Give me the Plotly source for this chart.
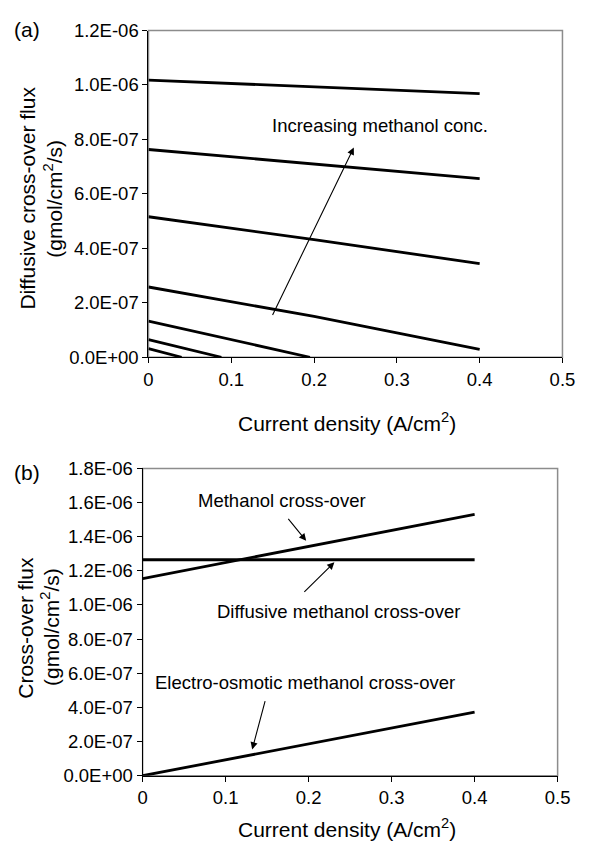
import plotly.graph_objects as go

# ---------------- Data ----------------
# Panel (a): diffusive cross-over flux for increasing methanol concentrations
a_x = [
    [0.0, 0.2, 0.4],
    [0.0, 0.2, 0.4],
    [0.0, 0.2, 0.4],
    [0.0, 0.2, 0.4],
    [0.0, 0.1, 0.195],
    [0.0, 0.088],
    [0.0, 0.04],
]
a_y = [
    [1.018e-06, 0.993e-06, 0.968e-06],
    [0.763e-06, 0.710e-06, 0.656e-06],
    [0.516e-06, 0.432e-06, 0.344e-06],
    [0.258e-06, 0.150e-06, 0.029e-06],
    [0.133e-06, 0.064e-06, 0.0],
    [0.065e-06, 0.0],
    [0.032e-06, 0.0],
]

# Panel (b): cross-over flux components
b_x = [0.0, 0.1, 0.2, 0.3, 0.4]
b_total = [1.155e-06, 1.250e-06, 1.343e-06, 1.437e-06, 1.531e-06]
b_diffusive = [1.265e-06, 1.265e-06, 1.265e-06, 1.265e-06, 1.265e-06]
b_electro = [0.0, 0.093e-06, 0.186e-06, 0.279e-06, 0.372e-06]

x_ticks = [0, 0.1, 0.2, 0.3, 0.4, 0.5]
x_tick_labels = ["0", "0.1", "0.2", "0.3", "0.4", "0.5"]
ya_ticks = [0, 2e-07, 4e-07, 6e-07, 8e-07, 1.0e-06, 1.2e-06]
ya_tick_labels = ["0.0E+00", "2.0E-07", "4.0E-07", "6.0E-07", "8.0E-07", "1.0E-06", "1.2E-06"]
yb_ticks = [0, 2e-07, 4e-07, 6e-07, 8e-07, 1.0e-06, 1.2e-06, 1.4e-06, 1.6e-06, 1.8e-06]
yb_tick_labels = ["0.0E+00", "2.0E-07", "4.0E-07", "6.0E-07", "8.0E-07",
                  "1.0E-06", "1.2E-06", "1.4E-06", "1.6E-06", "1.8E-06"]

# ---------------- Figure ----------------
W, H = 590, 852
FONT = "Liberation Sans, Arial, sans-serif"
TICK_SIZE = 18.5
LINE_W = 2.8

fig = go.Figure()

for xs, ys in zip(a_x, a_y):
    fig.add_trace(go.Scatter(x=xs, y=ys, mode="lines",
                             line=dict(color="black", width=LINE_W),
                             xaxis="x", yaxis="y", showlegend=False))

for ys in (b_total, b_diffusive, b_electro):
    fig.add_trace(go.Scatter(x=b_x, y=ys, mode="lines",
                             line=dict(color="black", width=LINE_W),
                             xaxis="x2", yaxis="y2", showlegend=False))

# pixel -> paper helpers
def px(x):
    return x / W

def py(y):
    return 1 - y / H

axis_common = dict(
    showgrid=False, zeroline=False, showline=True, linecolor="black", linewidth=1.2,
    ticks="outside", ticklen=5, tickwidth=1, tickcolor="black",
    tickfont=dict(family=FONT, size=TICK_SIZE, color="black"),
)

fig.update_layout(
    width=W, height=H, margin=dict(l=0, r=0, t=0, b=0),
    paper_bgcolor="white", plot_bgcolor="white",
    xaxis=dict(domain=[px(148), px(575)], range=[0, 0.5], anchor="y",
               tickvals=x_ticks, ticktext=x_tick_labels, **axis_common),
    yaxis=dict(domain=[py(355), py(20)], range=[0, 1.2e-06], anchor="x",
               tickvals=ya_ticks, ticktext=ya_tick_labels, **axis_common),
    xaxis2=dict(domain=[px(142), px(570)], range=[0, 0.5], anchor="y2",
                tickvals=x_ticks, ticktext=x_tick_labels, **axis_common),
    yaxis2=dict(domain=[py(784), py(469)], range=[0, 1.8e-06], anchor="x2",
                tickvals=yb_ticks, ticktext=yb_tick_labels, **axis_common),
)

# gray plot-area frame (top and right)
for xr, yr in (("x", "y"), ("x2", "y2")):
    fig.add_shape(type="rect", xref=xr + " domain", yref=yr + " domain",
                  x0=0, x1=1, y0=0, y1=1, line=dict(color="#8c8c8c", width=1.5),
                  layer="below")

lab_font = dict(family=FONT, size=18.5, color="black")
title_font = dict(family=FONT, size=21, color="black")

def paper_text(x, y, text, angle=0, xanchor="center"):
    return dict(x=px(x), y=py(y), xref="paper", yref="paper", text=text,
                textangle=angle, showarrow=False, xanchor=xanchor, yanchor="middle",
                font=title_font)

ann = []
# panel labels
ann.append(paper_text(7, 19, "(a)", xanchor="left"))
ann.append(paper_text(7, 473, "(b)", xanchor="left"))
# axis titles
ann.append(paper_text(353, 421, "Current density (A/cm<sup>2</sup>)"))
ann.append(paper_text(353, 838, "Current density (A/cm<sup>2</sup>)"))
ann.append(paper_text(23, 192, "Diffusive cross-over flux", angle=-90))
ann.append(paper_text(50, 192, "(gmol/cm<sup>2</sup>/s)", angle=-90))
ann.append(paper_text(21, 632, "Cross-over flux", angle=-90))
ann.append(paper_text(47, 632, "(gmol/cm<sup>2</sup>/s)", angle=-90))

arrow_style = dict(text="", showarrow=True, arrowhead=2, arrowsize=1.3,
                   arrowwidth=1.1, arrowcolor="black")

# panel (a) annotation
ann.append(dict(x=0.28, y=0.85e-06, xref="x", yref="y", text="Increasing methanol conc.",
                showarrow=False, font=lab_font, xanchor="center", yanchor="middle"))
ann.append(dict(x=0.248, y=0.77e-06, ax=0.149, ay=0.15e-06, xref="x", yref="y",
                axref="x", ayref="y", **arrow_style))

# panel (b) annotations
ann.append(dict(x=0.168, y=1.61e-06, xref="x2", yref="y2", text="Methanol cross-over",
                showarrow=False, font=lab_font, xanchor="center", yanchor="middle"))
ann.append(dict(x=0.197, y=1.376e-06, ax=0.174, ay=1.513e-06, xref="x2", yref="y2",
                axref="x2", ayref="y2", **arrow_style))
ann.append(dict(x=0.236, y=0.96e-06, xref="x2", yref="y2", text="Diffusive methanol cross-over",
                showarrow=False, font=lab_font, xanchor="center", yanchor="middle"))
ann.append(dict(x=0.231, y=1.25e-06, ax=0.193, ay=1.068e-06, xref="x2", yref="y2",
                axref="x2", ayref="y2", **arrow_style))
ann.append(dict(x=0.196, y=0.548e-06, xref="x2", yref="y2",
                text="Electro-osmotic methanol cross-over", showarrow=False, font=lab_font,
                xanchor="center", yanchor="middle"))
ann.append(dict(x=0.132, y=0.154e-06, ax=0.148, ay=0.445e-06, xref="x2", yref="y2",
                axref="x2", ayref="y2", **arrow_style))

fig.update_layout(annotations=ann)

fig.write_html("out.html")
